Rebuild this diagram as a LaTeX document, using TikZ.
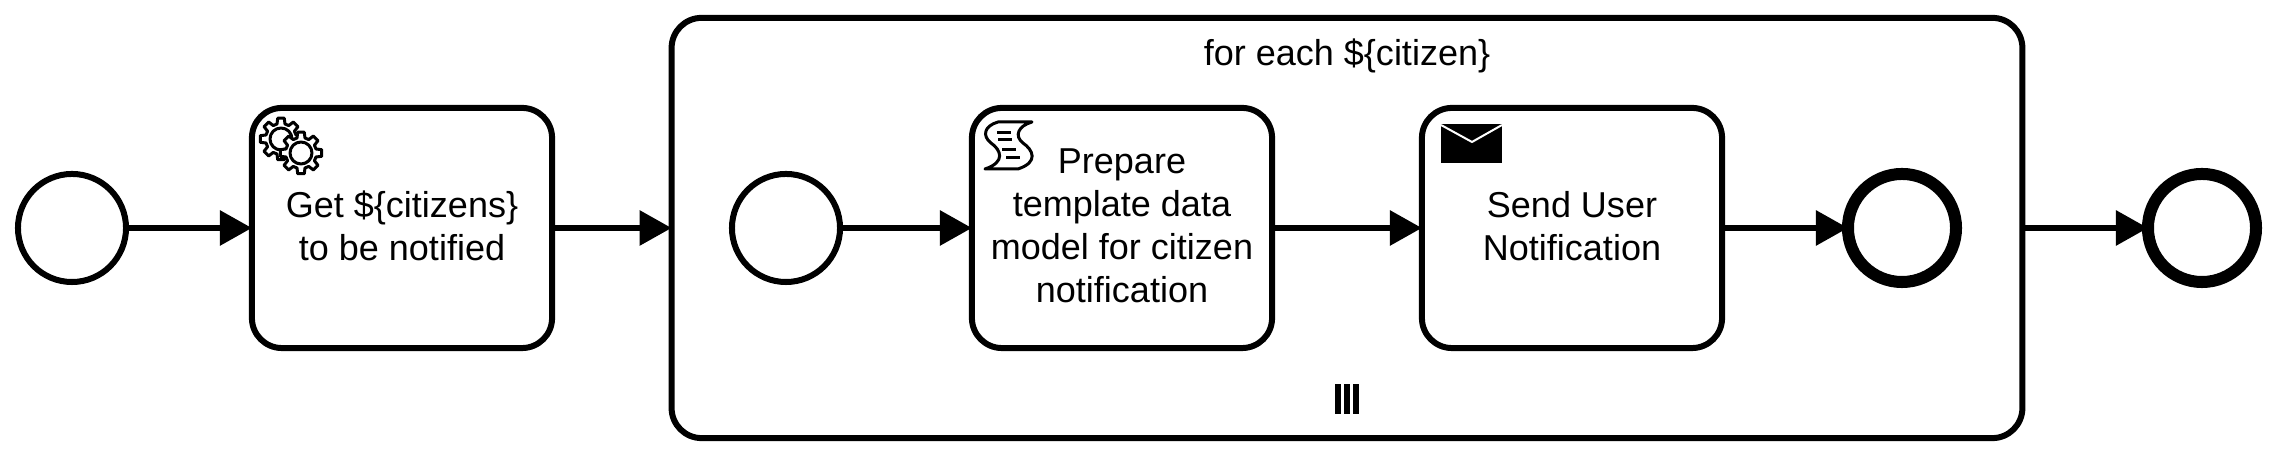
\documentclass[tikz,border=0pt]{standalone}
\usepackage{fontspec}
\setmainfont{Liberation Sans}
\usetikzlibrary{arrows.meta}

\tikzset{
  startevent/.style={draw, circle, line width=0.06cm, fill=white, minimum size=1.08cm, inner sep=0pt, outer sep=0pt},
  endevent/.style={draw, circle, line width=0.12cm, fill=white, minimum size=1.08cm, inner sep=0pt, outer sep=0pt},
  taskbox/.style={draw, rectangle, rounded corners=0.3cm, line width=0.06cm, minimum width=3cm, minimum height=2.4cm,
    inner sep=0pt, outer sep=0pt, align=center, font=\fontsize{10.24}{12.25}\selectfont,
    execute at end node={\rule[-0.045cm]{0pt}{0pt}}},
  subbox/.style={draw, rectangle, rounded corners=0.3cm, line width=0.06cm, minimum width=13.5cm, minimum height=4.2cm,
    inner sep=0pt, outer sep=0pt},
  caption/.style={inner sep=0pt, font=\fontsize{10.24}{12.25}\selectfont},
  flow/.style={-{Triangle[length=0.32cm, width=0.34cm]}, line width=0.06cm},
  iconline/.style={line width=0.03cm, fill=white, line join=round}
}

\newcommand{\gearicon}[1]{
  \begin{scope}[shift={(#1)}]
    \draw[iconline] (-15:15.5) \foreach \a in {0,45,...,315} {
      -- (\a-15:15.5) -- (\a-9:21) -- (\a+9:21) -- (\a+15:15.5)} -- cycle;
    \draw[iconline] (0,0) circle (11);
  \end{scope}
}

\begin{document}
\begin{tikzpicture}[x=0.01cm, y=-0.01cm]
\useasboundingbox (0,0) rectangle (2274,456);

% outer process
\node[startevent] (start) at (72,228) {};
\node[taskbox] (getcitizens) at (402,228) {Get \$\{citizens\}\\to be notified};
\node[subbox] (foreach) at (1347,228) {};
\node[endevent] (end) at (2202,228) {};

% inside the loop
\node[caption] (foreachlabel) at (1347,56) {for each \$\{citizen\}};
\node[startevent] (substart) at (786,228) {};
\node[taskbox] (prepare) at (1122,228) {Prepare\\template data\\model for citizen\\notification};
\node[taskbox] (send) at (1572,228) {Send User\\Notification};
\node[endevent] (subend) at (1902,228) {};

% Arrows showing flow
\draw[flow] (start) -- (getcitizens);
\draw[flow] (getcitizens) -- (foreach);
\draw[flow] (foreach) -- (end);
\draw[flow] (substart) -- (prepare);
\draw[flow] (prepare) -- (send);
\draw[flow] (send) -- (subend);

% parallel marker
\foreach \x in {1335,1344,1353}
  \fill (\x,384) rectangle (\x+6,414);

% service icon
\gearicon{281,139}
\gearicon{301,153}

% script icon
\draw[iconline] (998,122) -- (1032,122)
  .. controls (1018,126) and (1014,136) .. (1023,143)
  .. controls (1033,150) and (1039,162) .. (1018,169) -- (985,169)
  .. controls (1006,162) and (1001,150) .. (991,143)
  .. controls (982,136) and (984,126) .. (998,122) -- cycle;
\foreach \xa/\ya in {997/133,998/140,1002/150,1006/158}
  \draw[line width=0.03cm] (\xa,\ya) -- (\xa+14,\ya);

% envelope icon
\fill (1441,124) rectangle (1502,163);
\draw[white, line width=0.02cm] (1441,125) -- (1472,142) -- (1502,125);

\end{tikzpicture}
\end{document}
